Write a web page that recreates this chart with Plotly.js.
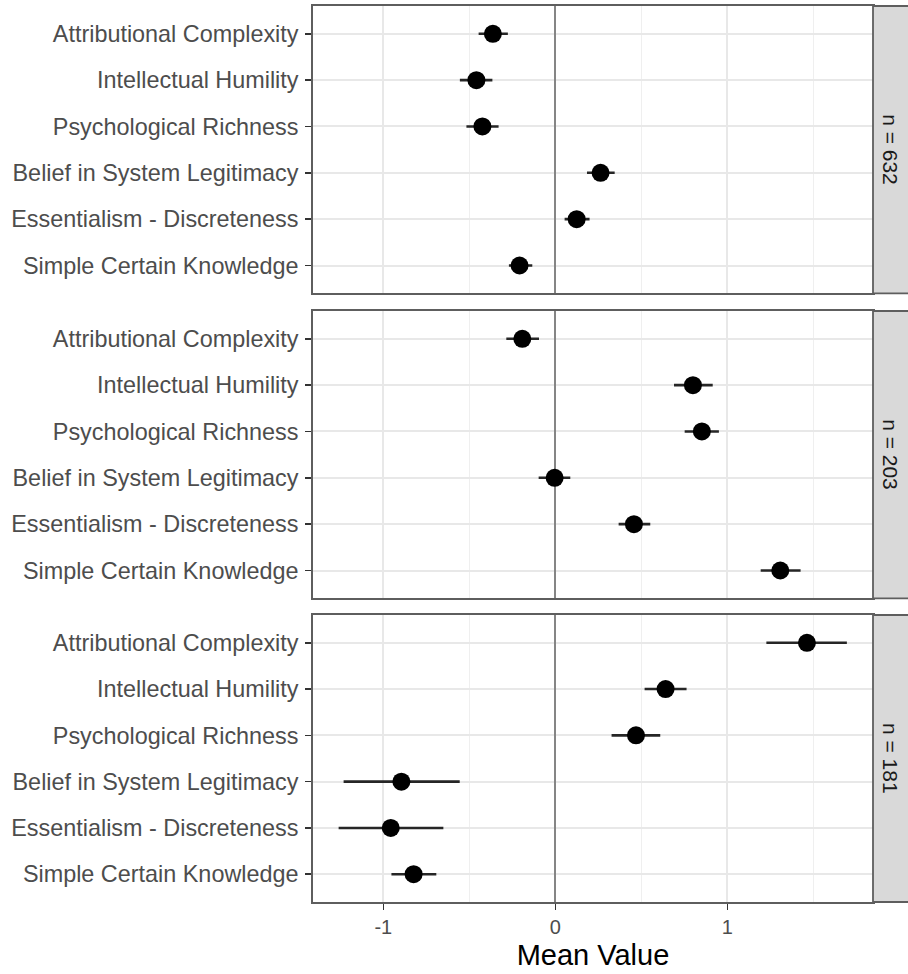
<!DOCTYPE html>
<html>
<head>
<meta charset="utf-8">
<script src="https://cdn.plot.ly/plotly-3.0.1.min.js"></script>
<style>
  html, body { margin: 0; padding: 0; background: #ffffff; }
  #chart { width: 908px; height: 974px; }
</style>
</head>
<body>
<div id="chart"></div>
<script>
// Scale measures, listed top to bottom within each panel
const categories = [
  'Attributional Complexity',
  'Intellectual Humility',
  'Psychological Richness',
  'Belief in System Legitimacy',
  'Essentialism - Discreteness',
  'Simple Certain Knowledge'
];

// Panel labels (sample size per group)
const panelLabels = ['n = 632', 'n = 203', 'n = 181'];

// Group n = 632
const mean632  = [-0.363, -0.459, -0.424, 0.263, 0.124, -0.208];
const lower632 = [-0.446, -0.555, -0.517, 0.184, 0.054, -0.270];
const upper632 = [-0.276, -0.366, -0.330, 0.345, 0.199, -0.134];

// Group n = 203
const mean203  = [-0.192, 0.800, 0.852, -0.004, 0.457, 1.308];
const lower203 = [-0.285, 0.690, 0.752, -0.097, 0.368, 1.194];
const upper203 = [-0.095, 0.915, 0.951, 0.087, 0.552, 1.426];

// Group n = 181
const mean181  = [1.463, 0.641, 0.469, -0.895, -0.957, -0.824];
const lower181 = [1.227, 0.519, 0.327, -1.231, -1.260, -0.953];
const upper181 = [1.695, 0.763, 0.610, -0.556, -0.651, -0.692];

// X axis ticks
const xTickVals = [-1, 0, 1];
const xTickText = ['-1', '0', '1'];

const groups = [
  { mean: mean632, lower: lower632, upper: upper632 },
  { mean: mean203, lower: lower203, upper: upper203 },
  { mean: mean181, lower: lower181, upper: upper181 }
];

const FONT = 'Liberation Sans, Arial, Helvetica, sans-serif';
const W = 908, H = 974;
const M = { l: 313, r: 35, t: 6, b: 72 };
const plotH = H - M.t - M.b;
const plotW = W - M.l - M.r;

// Panel pixel extents (top, bottom) in page coordinates
const panelPx = [[6, 293.3], [311, 598.3], [615, 902]];
const toFrac = y => (H - M.b - y) / plotH;
const domains = panelPx.map(([t, b]) => [Math.max(0, toFrac(b)), Math.min(1, toFrac(t))]);

const xRange = [-1.409, 1.847];

const traces = groups.map((g, i) => {
  const sfx = i === 0 ? '' : String(i + 1);
  return {
    type: 'scatter',
    mode: 'markers',
    x: g.mean,
    y: categories,
    xaxis: 'x' + sfx,
    yaxis: 'y' + sfx,
    marker: { color: '#000000', size: 18, line: { width: 0 } },
    error_x: {
      type: 'data',
      symmetric: false,
      array: g.upper.map((u, k) => u - g.mean[k]),
      arrayminus: g.mean.map((m, k) => m - g.lower[k]),
      width: 0,
      thickness: 2.6,
      color: '#262626'
    },
    hoverinfo: 'skip',
    showlegend: false,
    cliponaxis: false
  };
});

const layout = {
  width: W,
  height: H,
  margin: M,
  paper_bgcolor: '#ffffff',
  plot_bgcolor: '#ffffff',
  font: { family: FONT, color: '#4d4d4d', size: 20 },
  showlegend: false,
  shapes: [],
  annotations: []
};

domains.forEach((dom, i) => {
  const sfx = i === 0 ? '' : String(i + 1);
  const isBottom = i === domains.length - 1;
  layout['xaxis' + sfx] = {
    domain: [0, 1],
    anchor: 'y' + sfx,
    range: xRange,
    tickmode: 'array',
    tickvals: xTickVals,
    ticktext: xTickText,
    showticklabels: isBottom,
    ticks: isBottom ? 'outside' : '',
    ticklen: 6,
    tickwidth: 1.5,
    tickcolor: '#333333',
    tickfont: { family: FONT, size: 20, color: '#4d4d4d' },
    showgrid: true,
    gridcolor: '#e8e8e8',
    gridwidth: 2,
    minor: { dtick: 0.5, tick0: 0, showgrid: true, gridcolor: '#efefef', gridwidth: 1.5 },
    zeroline: true,
    zerolinecolor: '#858585',
    zerolinewidth: 2,
    showline: true,
    mirror: true,
    linecolor: '#5e5e5e',
    linewidth: 1.8,
    fixedrange: true,
    title: isBottom ? { text: 'Mean Value', font: { family: FONT, size: 29, color: '#000000' }, standoff: 8 } : { text: '' }
  };
  if (i > 0) layout['xaxis' + sfx].matches = 'x';
  layout['yaxis' + sfx] = {
    domain: dom,
    anchor: 'x' + sfx,
    type: 'category',
    categoryorder: 'array',
    categoryarray: categories,
    range: [5.6, -0.6],
    ticks: 'outside',
    ticklen: 6,
    tickwidth: 1.5,
    tickcolor: '#333333',
    ticklabelstandoff: 2,
    tickfont: { family: FONT, size: 23.4, color: '#4d4d4d' },
    showgrid: true,
    gridcolor: '#e8e8e8',
    gridwidth: 2,
    zeroline: false,
    showline: true,
    mirror: true,
    linecolor: '#5e5e5e',
    linewidth: 1.8,
    fixedrange: true
  };

  // facet strip on the right of each panel
  const x0 = 1, x1 = 1 + (W - (M.l + plotW)) / plotW;
  layout.shapes.push({
    type: 'rect', xref: 'paper', yref: 'paper',
    x0: x0, x1: x1 + 0.01, y0: dom[0], y1: dom[1],
    fillcolor: '#d9d9d9',
    line: { color: '#5e5e5e', width: 1.8 },
    layer: 'above'
  });
  layout.annotations.push({
    xref: 'paper', yref: 'paper',
    x: (x0 + x1) / 2, y: (dom[0] + dom[1]) / 2,
    text: panelLabels[i],
    textangle: 90,
    showarrow: false,
    xanchor: 'center', yanchor: 'middle',
    font: { family: FONT, size: 21, color: '#1a1a1a' }
  });
});

Plotly.newPlot('chart', traces, layout, { staticPlot: true, displayModeBar: false });
</script>
</body>
</html>
